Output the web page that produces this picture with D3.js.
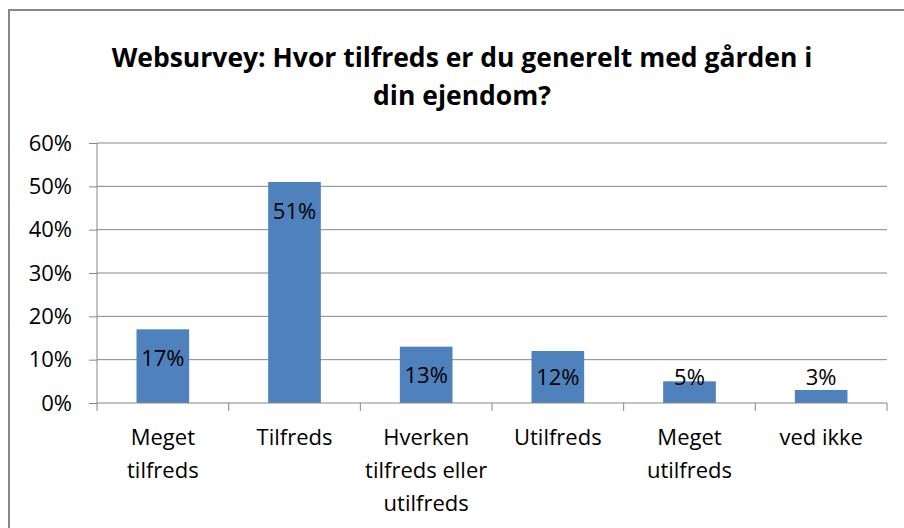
<!DOCTYPE html>
<html>
<head>
<meta charset="utf-8">
<script src="https://cdn.jsdelivr.net/npm/d3@7"></script>
<style>
  body { margin: 0; background: #fff; }
  text { font-family: "Open Sans", Lato, sans-serif; fill: #000; }
</style>
</head>
<body>
<script>
// data
const title = "Websurvey: Hvor tilfreds er du generelt med gården i din ejendom?";
const categories = ["Meget tilfreds", "Tilfreds", "Hverken tilfreds eller utilfreds", "Utilfreds", "Meget utilfreds", "ved ikke"];
const values = [0.17, 0.51, 0.13, 0.12, 0.05, 0.03];
const yTicks = [0, 0.1, 0.2, 0.3, 0.4, 0.5, 0.6];

const W = 904, H = 528;
const svg = d3.select("body").append("svg")
    .attr("width", W)
    .attr("height", H);

// chart frame
svg.append("rect")
    .attr("x", 9).attr("y", 10)
    .attr("width", 920).attr("height", 540)
    .attr("fill", "white")
    .attr("stroke", "#868686")
    .attr("stroke-width", 2);

let x = d3.scaleBand().domain(categories).range([97, 887]).paddingInner(0.6).paddingOuter(0.3);
let y = d3.scaleLinear().domain([0, 0.6]).range([403, 143]);
let pct = d3.format(".0%");

// wraps words into lines no wider than maxW
function wrapLines(textSel, str, maxW, lh) {
    let words = str.split(" ");
    let lines = [];
    let cur = "";
    let probe = textSel.append("tspan");
    words.forEach(w => {
        let t = cur ? cur + " " + w : w;
        probe.text(t);
        if (probe.node().getComputedTextLength() > maxW && cur) {
            lines.push(cur);
            cur = w;
        } else {
            cur = t;
        }
    });
    lines.push(cur);
    probe.remove();
    lines.forEach((l, i) => {
        textSel.append("tspan")
            .attr("x", textSel.attr("x"))
            .attr("dy", i === 0 ? 0 : lh)
            .text(l);
    });
}

// title
let titleText = svg.append("text")
    .attr("x", 462).attr("y", 67)
    .attr("text-anchor", "middle")
    .style("font-size", "26.5px")
    .style("font-weight", "bold");
wrapLines(titleText, title, 720, 38);

// gridlines
svg.selectAll(".grid")
    .data(yTicks.slice(1))
    .enter()
    .append("line")
    .attr("class", "grid")
    .attr("x1", 97).attr("x2", 887)
    .attr("y1", d => y(d)).attr("y2", d => y(d))
    .attr("stroke", "#868686")
    .attr("stroke-width", 1);

// y axis
let yAxis = svg.append("g")
    .attr("transform", "translate(97,0)")
    .call(d3.axisLeft(y).tickValues(yTicks).tickFormat(pct).tickSize(8).tickPadding(17));
yAxis.select(".domain").attr("stroke", "#868686").attr("d", "M0,143V403");
yAxis.selectAll(".tick line").attr("stroke", "#868686");
yAxis.selectAll(".tick text")
    .style("font-size", "22px")
    .attr("font-family", null);

// bars
svg.selectAll(".bar")
    .data(values)
    .enter()
    .append("rect")
    .attr("class", "bar")
    .attr("x", (d, i) => x(categories[i]))
    .attr("y", d => y(d))
    .attr("width", x.bandwidth())
    .attr("height", d => y(0) - y(d))
    .attr("fill", "#4F81BD");

// value labels, kept from dropping below the axis
svg.selectAll(".vlabel")
    .data(values)
    .enter()
    .append("text")
    .attr("class", "vlabel")
    .attr("x", (d, i) => x(categories[i]) + x.bandwidth() / 2)
    .attr("y", d => Math.min(y(d) + 29, 377))
    .attr("dy", "0.35em")
    .attr("text-anchor", "middle")
    .style("font-size", "22px")
    .text(d => pct(d));

// x axis
let step = x.step();
let bounds = d3.range(categories.length + 1).map(i => 97 + i * step);
svg.append("line")
    .attr("x1", 97).attr("x2", 887)
    .attr("y1", 403).attr("y2", 403)
    .attr("stroke", "#868686");
svg.selectAll(".xtick")
    .data(bounds)
    .enter()
    .append("line")
    .attr("class", "xtick")
    .attr("x1", d => d).attr("x2", d => d)
    .attr("y1", 403).attr("y2", 411)
    .attr("stroke", "#868686");

svg.selectAll(".xlabel")
    .data(categories)
    .enter()
    .append("text")
    .attr("class", "xlabel")
    .attr("x", d => x(d) + x.bandwidth() / 2)
    .attr("y", 445)
    .attr("text-anchor", "middle")
    .style("font-size", "22px")
    .each(function(d) { wrapLines(d3.select(this), d, 130, 33); });
</script>
</body>
</html>
